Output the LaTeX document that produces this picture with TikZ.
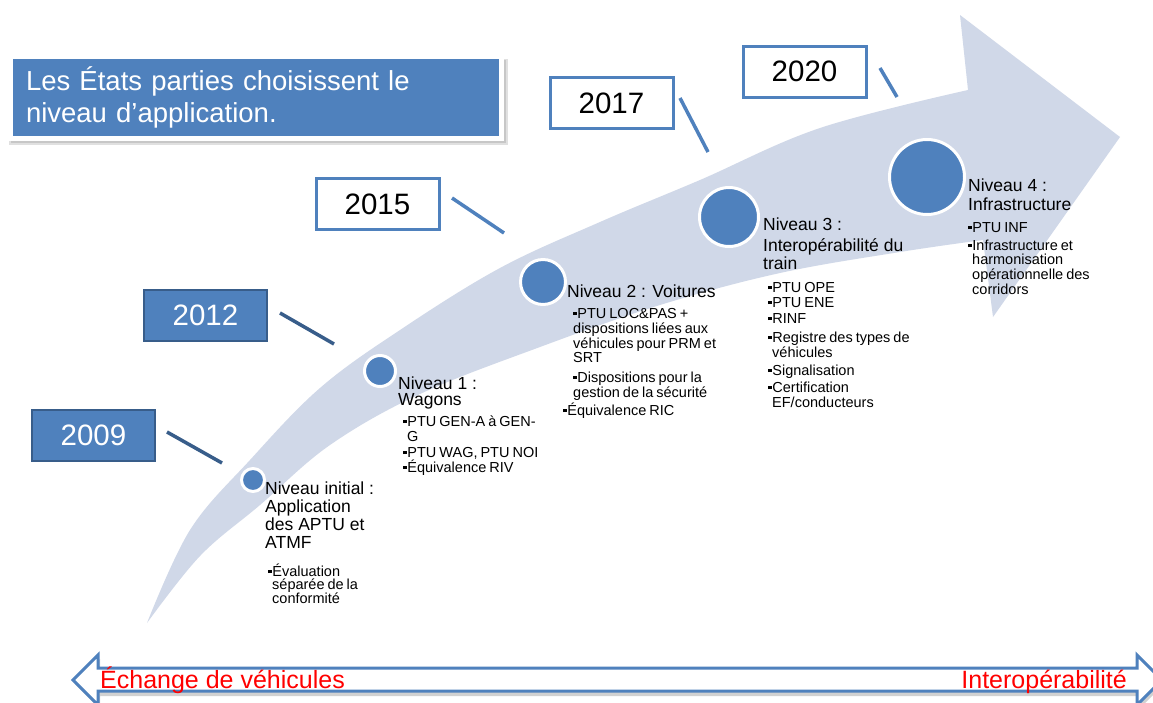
\documentclass[tikz,border=0pt]{standalone}
\usepackage{fontspec}
\setmainfont{Liberation Sans}
\newfontfamily\smf[WordSpace=0.75]{Liberation Sans}
\definecolor{bandc}{RGB}{208,216,232}
\definecolor{pblue}{RGB}{79,129,189}
\definecolor{dblue}{RGB}{56,93,138}
\newcommand\bul{\makebox[4.2pt][l]{\raisebox{3pt}{\rule{3.4pt}{3.4pt}}}}
\newcommand\tline[4]{\node[#1] (#2) at #3 {#4};}
\begin{document}
\begin{tikzpicture}[x=1pt,y=-1pt,
  hd/.style={anchor=base west, inner sep=0pt, font=\fontsize{17.5}{20}\selectfont},
  bt/.style={anchor=base west, inner sep=0pt, font=\smf\fontsize{14.5}{16}\selectfont},
  yearbox/.style={rectangle, minimum width=123pt, minimum height=51pt, inner sep=0pt,
    font=\fontsize{29.5}{32}\selectfont},
  yearblue/.style={yearbox, draw=dblue, line width=2.5pt, fill=pblue, text=white},
  yearwhite/.style={yearbox, draw=pblue, line width=3pt, fill=white, text=black},
  dot/.style={circle, fill=pblue, draw=white, line width=3pt, inner sep=0pt},
  conn/.style={line width=3.5pt, draw=pblue},
  dconn/.style={line width=3.5pt, draw=dblue},
  lab/.style={inner sep=0pt, text=red, font=\fontsize{25}{28}\selectfont},
]
\useasboundingbox (0,0) rectangle (1153,702);
\fill[white] (0,0) rectangle (1153,702);

% big curved arrow
\fill[bandc] plot[smooth, tension=0.6] coordinates {(147,623) (190,530) (250,460) (320,388) (400,330) (500,268) (600,222) (700,180) (820,128) (968,90)}
  -- (960,15) -- (1120,137) -- (993,317)
  -- plot[smooth, tension=0.6] coordinates {(983,240) (900,252) (780,273) (660,305) (540,347) (420,394) (330,445) (260,505) (200,556) (147,623)} -- cycle;

% title box
\fill[black!12] (9,59) rectangle (508,145);
\fill[black!22] (11,60) rectangle (506,143);
\node[rectangle, fill=pblue, draw=white, line width=5pt, minimum width=491.5pt, minimum height=81.5pt,
  text width=460pt, align=left, inner sep=0pt, text=white, font=\fontsize{27.5}{32}\selectfont]
  (title) at (256,97.25) {Les États parties choisissent le\\niveau d’application.};

% year boxes
\node[yearblue] (y2009) at (93.5,435.5) {2009};
\node[yearblue] (y2012) at (205.5,315.5) {2012};
\node[yearwhite] (y2015) at (377.5,204) {2015};
\node[yearwhite] (y2017) at (611.5,103) {2017};
\node[yearwhite] (y2020) at (804.5,71.5) {2020};

% connectors
\coordinate (c09a) at (167,432); \coordinate (c09b) at (222,463);
\coordinate (c12a) at (280,313); \coordinate (c12b) at (334,344);
\coordinate (c15a) at (452,198); \coordinate (c15b) at (504,233);
\coordinate (c17a) at (680,98);  \coordinate (c17b) at (708,152);
\coordinate (c20a) at (880,68);  \coordinate (c20b) at (897,97);
\draw[dconn] (c09a) -- (c09b);
\draw[dconn] (c12a) -- (c12b);
\draw[conn] (c15a) -- (c15b);
\draw[conn] (c17a) -- (c17b);
\draw[conn] (c20a) -- (c20b);

% level dots
\node[dot, minimum size=23pt] (d0) at (253,480) {};
\node[dot, minimum size=31pt] (d1) at (380,371) {};
\node[dot, minimum size=45pt] (d2) at (543,282) {};
\node[dot, minimum size=59pt] (d3) at (729,217) {};
\node[dot, minimum size=75pt] (d4) at (927,177) {};

% Niveau initial
\tline{hd}{t0a}{(265,494)}{Niveau initial :}
\tline{hd}{t0b}{(265,512)}{Application}
\tline{hd}{t0c}{(265,530)}{des APTU et}
\tline{hd}{t0d}{(265,548)}{ATMF}
\tline{bt}{t0e}{(268,576)}{\bul Évaluation}
\tline{bt}{t0f}{(272,589)}{séparée de la}
\tline{bt}{t0g}{(272,603)}{conformité}

% Niveau 1
\tline{hd}{t1a}{(398,389)}{Niveau 1 :}
\tline{hd}{t1b}{(398,405)}{Wagons}
\tline{bt}{t1c}{(403,426)}{\bul PTU GEN-A à GEN-}
\tline{bt}{t1d}{(407,441)}{G}
\tline{bt}{t1e}{(403,457)}{\bul PTU WAG, PTU NOI}
\tline{bt}{t1f}{(403,472)}{\bul Équivalence RIV}

% Niveau 2
\tline{hd}{t2a}{(567,297)}{Niveau 2 : Voitures}
\tline{bt}{t2b}{(573,318)}{\bul PTU LOC\&PAS +}
\tline{bt}{t2c}{(573,333)}{dispositions liées aux}
\tline{bt}{t2d}{(573,348)}{véhicules pour PRM et}
\tline{bt}{t2e}{(573,362)}{SRT}
\tline{bt}{t2f}{(573,382)}{\bul Dispositions pour la}
\tline{bt}{t2g}{(573,397)}{gestion de la sécurité}
\tline{bt}{t2h}{(563,415)}{\bul Équivalence RIC}

% Niveau 3
\tline{hd}{t3a}{(763,230)}{Niveau 3 :}
\tline{hd}{t3b}{(763,251)}{Interopérabilité du}
\tline{hd}{t3c}{(763,269)}{train}
\tline{bt}{t3d}{(768,292)}{\bul PTU OPE}
\tline{bt}{t3e}{(768,307)}{\bul PTU ENE}
\tline{bt}{t3f}{(768,323)}{\bul RINF}
\tline{bt}{t3g}{(768,342)}{\bul Registre des types de}
\tline{bt}{t3h}{(772,357)}{véhicules}
\tline{bt}{t3i}{(768,375)}{\bul Signalisation}
\tline{bt}{t3j}{(768,392)}{\bul Certification}
\tline{bt}{t3k}{(772,407)}{EF/conducteurs}

% Niveau 4
\tline{hd}{t4a}{(968,191)}{Niveau 4 :}
\tline{hd}{t4b}{(968,210)}{Infrastructure}
\tline{bt}{t4c}{(968,232)}{\bul PTU INF}
\tline{bt}{t4d}{(968,250)}{\bul Infrastructure et}
\tline{bt}{t4e}{(972,264)}{harmonisation}
\tline{bt}{t4f}{(972,279)}{opérationnelle des}
\tline{bt}{t4g}{(972,294)}{corridors}

% bottom double arrow
\fill[black!18] (75,684) -- (100,659) -- (100,672) -- (1139,672) -- (1139,659) -- (1164,684)
  -- (1139,709) -- (1139,696) -- (100,696) -- (100,709) -- cycle;
\draw[pblue, line width=3pt, fill=white, line join=miter] (73,680) -- (98,655) -- (98,668) -- (1137,668) -- (1137,655) -- (1162,680)
  -- (1137,705) -- (1137,691) -- (98,691) -- (98,705) -- cycle;
\node[lab, anchor=base west] (ech) at (100,688) {Échange de véhicules};
\node[lab, anchor=base east] (inter) at (1127,688) {Interopérabilité};
\end{tikzpicture}
\end{document}
